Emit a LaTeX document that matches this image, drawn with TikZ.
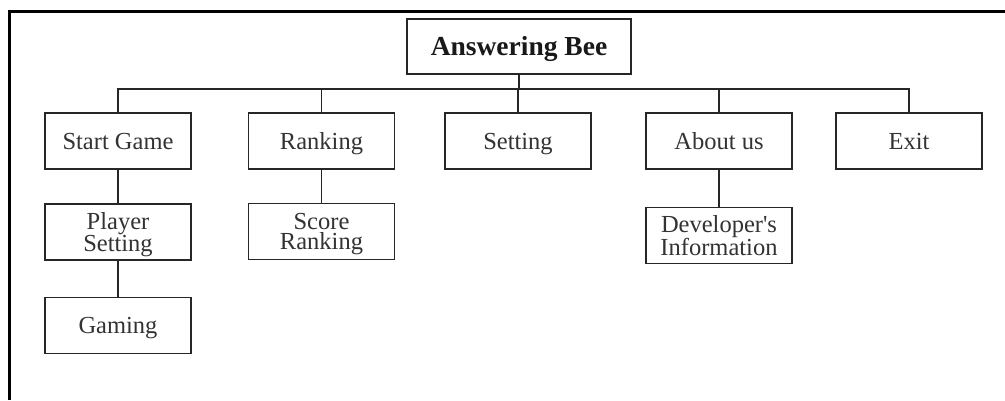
\documentclass[tikz,border=0pt]{standalone}
\usepackage{fontspec}
\setmainfont{Liberation Serif}
\begin{document}
\begin{tikzpicture}[x=1pt,y=-1pt,
  menubox/.style={draw=black!85, line width=1.4pt, fill=white, minimum width=146pt,
    minimum height=56pt, inner sep=0pt, align=center, text=black!80,
    font=\fontsize{24.5}{20.5}\selectfont},
  oneline/.style={menubox, text height=16pt, text depth=0pt},
  twoline/.style={menubox, text depth=0pt},
  link/.style={draw=black!85, line width=1.3pt}]
\useasboundingbox (0,0) rectangle (1005,400);
% outer frame
\draw[line width=3pt] (9,400) -- (9,11) -- (1005,11);
% root
\node[oneline, minimum width=224pt, minimum height=55pt, text=black!90,
  text height=17pt, font=\fontsize{27.5}{21}\selectfont\bfseries] (root) at (519,46.5) {Answering Bee};
% main menu
\node[oneline] (start) at (118,141) {Start Game};
\node[oneline] (rank) at (321.5,141) {Ranking};
\node[oneline] (set) at (518,141) {Setting};
\node[oneline] (about) at (719,141) {About us};
\node[oneline] (exit) at (909,141) {Exit};
% sub menus
\node[twoline] (player) at (118,232) {Player\\Setting};
\node[oneline] (game) at (118,325.5) {Gaming};
\node[twoline] (score) at (321.5,231.5) {Score\\Ranking};
\node[twoline] (dev) at (719,235.5) {Developer\textquotesingle s\\Information};
% connectors
\coordinate (bus) at (0,89);
\draw[link] (root.south) -- (root.south |- bus);
\draw[link] (start.north) -- (start.north |- bus) -- (exit.north |- bus) -- (exit.north);
\draw[link] (rank.north) -- (rank.north |- bus);
\draw[link] (set.north) -- (set.north |- bus);
\draw[link] (about.north) -- (about.north |- bus);
\draw[link] (start.south) -- (player.north);
\draw[link] (player.south) -- (game.north);
\draw[link] (rank.south) -- (score.north);
\draw[link] (about.south) -- (dev.north);
\end{tikzpicture}
\end{document}
